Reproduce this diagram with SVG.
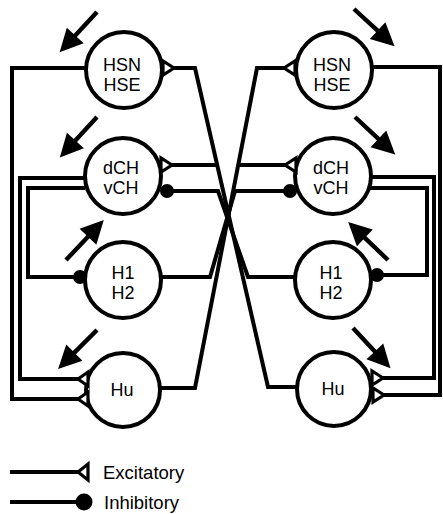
<svg xmlns="http://www.w3.org/2000/svg" xmlns:xlink="http://www.w3.org/1999/xlink" width="443" height="514" viewBox="0 0 443 514">
<style>
.wire{fill:none;stroke:#000;stroke-width:4;stroke-linejoin:miter}
.cell{fill:#fff;stroke:#000;stroke-width:4}
.exc{fill:#fff;stroke:#000;stroke-width:3.2;stroke-linejoin:miter}
.inh{fill:#000}
.lbl{font-family:"Liberation Sans",Arial,sans-serif;font-size:18px;text-anchor:middle;fill:#000}
.leg{font-family:"Liberation Sans",Arial,sans-serif;font-size:18.5px;fill:#000}
.arr{fill:#000}
</style>
<defs>
<path id="arrow" d="M0,-2.2 L32,-2.2 L32,-11.5 L55,0 L32,11.5 L32,2.2 L0,2.2 Z"/>
</defs>
<rect width="443" height="514" fill="#fff"/>
<g id="connectors">
<polyline class="wire" points="86,68 12,68 12,399 78,399"/>
<polyline class="wire" points="85,178 20,178 20,379 78,379"/>
<polyline class="wire" points="85,188 28,188 28,277 80,277"/>
<polyline class="wire" points="161,277 210,277 235,191 290,191"/>
<polyline class="wire" points="167,191 218,191 248,277 296,277"/>
<polyline class="wire" points="297,387 268,387 195,68 174,68"/>
<polyline class="wire" points="217,165 172,165"/>
<polyline class="wire" points="160,388 195,388 257,68 284,68"/>
<polyline class="wire" points="238,165 285,165"/>
<polyline class="wire" points="372,67 440,67 440,395 384,395"/>
<polyline class="wire" points="371,177 434,177 434,378 383,378"/>
<polyline class="wire" points="370,188 427,188 427,275 378,275"/>
</g>
<g id="HSN_L"><circle class="cell" cx="124" cy="70" r="38"/><text class="lbl" x="122" y="71">HSN</text><text class="lbl" x="122" y="91">HSE</text></g>
<g id="dCH_L"><circle class="cell" cx="123" cy="176" r="38"/><text class="lbl" x="121" y="174">dCH</text><text class="lbl" x="121" y="194">vCH</text></g>
<g id="H1_L"><circle class="cell" cx="123" cy="280" r="38"/><text class="lbl" x="123" y="279">H1</text><text class="lbl" x="123" y="299">H2</text></g>
<g id="Hu_L"><circle class="cell" cx="123" cy="390" r="37"/><text class="lbl" x="122" y="396">Hu</text></g>
<g id="HSN_R"><circle class="cell" cx="334" cy="70" r="38"/><text class="lbl" x="332" y="71">HSN</text><text class="lbl" x="332" y="91">HSE</text></g>
<g id="dCH_R"><circle class="cell" cx="333" cy="176" r="38"/><text class="lbl" x="331" y="174">dCH</text><text class="lbl" x="331" y="194">vCH</text></g>
<g id="H1_R"><circle class="cell" cx="333" cy="280" r="38"/><text class="lbl" x="331" y="279">H1</text><text class="lbl" x="331" y="299">H2</text></g>
<g id="Hu_R"><circle class="cell" cx="334" cy="389" r="37"/><text class="lbl" x="333" y="395">Hu</text></g>
<g id="terminals">
<polygon class="exc" points="174,68 163,61 163,75"/>
<polygon class="exc" points="172,165 161,158 161,172"/>
<circle class="inh" cx="167" cy="191" r="7"/>
<circle class="inh" cx="80" cy="277" r="7"/>
<polygon class="exc" points="78,379 88,372 88,386"/>
<polygon class="exc" points="78,399 88,392 88,406"/>
<polygon class="exc" points="284,68 295,61 295,75"/>
<polygon class="exc" points="285,165 296,158 296,172"/>
<circle class="inh" cx="290" cy="191" r="7"/>
<circle class="inh" cx="377" cy="275" r="7"/>
<polygon class="exc" points="383,378 372,371 372,385"/>
<polygon class="exc" points="384,395 373,388 373,402"/>
</g>
<g id="stimuli" class="arr">
<use xlink:href="#arrow" transform="translate(97,12) rotate(132.8)"/>
<use xlink:href="#arrow" transform="translate(97,117) rotate(132.5)"/>
<use xlink:href="#arrow" transform="translate(66,260) rotate(-46.6)"/>
<use xlink:href="#arrow" transform="translate(97,330) rotate(135)"/>
<use xlink:href="#arrow" transform="translate(354,9) rotate(42.5)"/>
<use xlink:href="#arrow" transform="translate(355,117) rotate(43)"/>
<use xlink:href="#arrow" transform="translate(388,260) rotate(-136.4)"/>
<use xlink:href="#arrow" transform="translate(353,328) rotate(47)"/>
</g>
<g id="legend">
<line class="wire" x1="10" y1="472" x2="79" y2="472"/>
<polygon class="exc" points="78,472 88,464 88,480"/>
<text class="leg" x="103" y="479">Excitatory</text>
<line class="wire" x1="10" y1="502" x2="82" y2="502"/>
<circle class="inh" cx="84" cy="502" r="8.5"/>
<text class="leg" x="104" y="509">Inhibitory</text>
</g>
</svg>
